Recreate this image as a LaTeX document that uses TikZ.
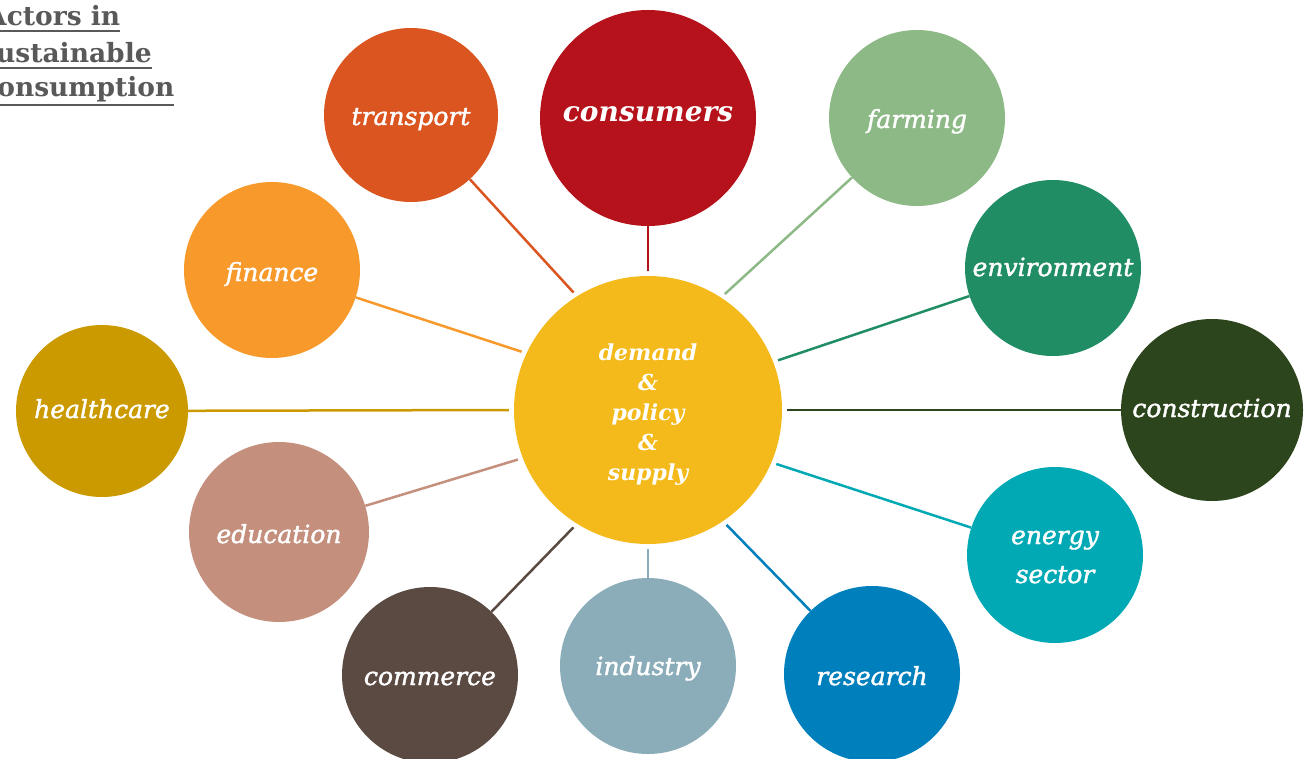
\documentclass[tikz,border=0pt]{standalone}
\usepackage{fontspec}
\setmainfont{DejaVu Serif}
\newfontfamily\lblfont{DejaVu Serif}[ItalicFeatures={FakeBold=1.6}]
\usetikzlibrary{calc}
\definecolor{cConsumers}{HTML}{B5121B}
\definecolor{cTransport}{HTML}{DA5520}
\definecolor{cFarming}{HTML}{8DB986}
\definecolor{cFinance}{HTML}{F7992B}
\definecolor{cEnvironment}{HTML}{218D65}
\definecolor{cHealthcare}{HTML}{CB9A00}
\definecolor{cConstruction}{HTML}{2C451D}
\definecolor{cEducation}{HTML}{C4907D}
\definecolor{cEnergy}{HTML}{00A9B4}
\definecolor{cCommerce}{HTML}{5B4A42}
\definecolor{cIndustry}{HTML}{8AADB9}
\definecolor{cResearch}{HTML}{007FBD}
\definecolor{cCenter}{HTML}{F4BA1B}
\definecolor{cTitle}{HTML}{595959}
\tikzset{
  actor/.style={circle, inner sep=0pt, minimum size=176pt, text=white,
    font=\lblfont\itshape\fontsize{25}{39}\selectfont, align=center, text depth=0pt},
  link/.style={line width=2.5pt, shorten >=5pt},
  titletext/.style={anchor=base west, inner sep=0pt, text=cTitle,
    font=\bfseries\fontsize{26.5}{30}\selectfont},
  uline/.style={line width=2pt, cTitle}
}
\begin{document}
\begin{tikzpicture}[x=1pt,y=-1pt]
\useasboundingbox (0,0) rectangle (1308,759);
\clip (0,0) rectangle (1308,759);

% title
\node[titletext] (t1) at (-14,26) {Actors in\ };
\node[titletext] (t2) at (-19,63) {sustainable\ };
\node[titletext] (t3) at (-19,97) {consumption\ };
\draw[uline] ([yshift=-5pt]t1.base west) -- ([yshift=-5pt]t1.base east);
\draw[uline] ([yshift=-5pt]t2.base west) -- ([yshift=-5pt]t2.base east);
\draw[uline] ([yshift=-8pt]t3.base west) -- ([yshift=-8pt]t3.base east);

% center
\node[circle, inner sep=0pt, minimum size=268pt, fill=cCenter, text=white, align=center,
  text height=140pt, text depth=0pt,
  font=\lblfont\bfseries\itshape\fontsize{22}{30}\selectfont] (c) at (648,410)
  {demand\\\&\\policy\\\&\\supply};

% satellites
\node[actor, minimum size=216pt, fill=cConsumers, text height=8pt,
  font=\lblfont\bfseries\itshape\fontsize{28}{30}\selectfont] (consumers) at (648,118) {consumers};
\node[actor, minimum size=174pt, fill=cTransport, text height=20pt] (transport) at (411,115) {transport};
\node[actor, fill=cFarming, text height=20pt] (farming) at (917,118) {farming};
\node[actor, fill=cFinance, text height=22pt] (finance) at (272,270) {finance};
\node[actor, fill=cEnvironment, text height=16pt] (environment) at (1053,268) {environment};
\node[actor, minimum size=172pt, fill=cHealthcare, text height=14pt] (healthcare) at (102,411) {healthcare};
\node[actor, minimum size=182pt, fill=cConstruction, text height=14pt] (construction) at (1212,410) {construction};
\node[actor, minimum size=180pt, fill=cEducation, text height=22pt] (education) at (279,532) {education};
\node[actor, fill=cEnergy, text height=56pt] (energy) at (1055,555) {energy\\sector};
\node[actor, fill=cCommerce, text height=20pt] (commerce) at (430,675) {commerce};
\node[actor, fill=cIndustry, text height=18pt] (industry) at (648,666) {industry};
\node[actor, fill=cResearch, text height=22pt] (research) at (872,674) {research};

% links
\draw[link, cConsumers] (consumers) -- (c.90);
\draw[link, cTransport] (transport) -- (c.122.7);
\draw[link, cFarming] (farming) -- (c.57.2);
\draw[link, cFinance] (finance) -- (c.155.7);
\draw[link, cEnvironment] (environment) -- (c.21.6);
\draw[link, cHealthcare] (healthcare) -- (c.180);
\draw[link, cConstruction] (construction) -- (c.0);
\draw[link, cEducation] (education) -- (c.201.2);
\draw[link, cEnergy] (energy) -- (c.-23.7);
\draw[link, cCommerce] (commerce) -- (c.238.3);
\draw[link, cIndustry] (industry) -- (c.270);
\draw[link, cResearch] (research) -- (c.-56.3);
\end{tikzpicture}
\end{document}
